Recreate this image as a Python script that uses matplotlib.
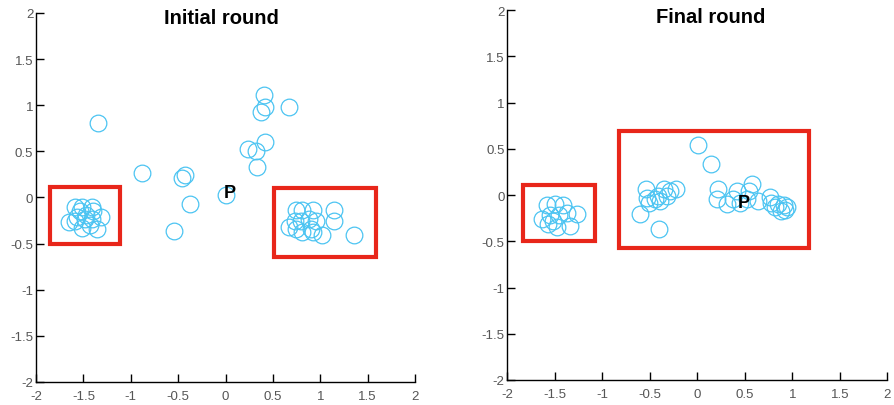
import numpy as np
import matplotlib.pyplot as plt
from matplotlib.patches import Rectangle

plt.rcParams['font.family'] = ['Liberation Sans', 'DejaVu Sans']

# initial round positions
init_x = [-1.35, -0.88, -0.46, -0.43, -0.38, -0.54, 0.00, 0.24, 0.32, 0.33, 0.42, 0.37, 0.42, 0.41, 0.67,
          -1.59, -1.52, -1.41, -1.57, -1.47, -1.40, -1.31, -1.65, -1.59, -1.52, -1.43, -1.36, -1.48, -1.41, -1.54,
          0.74, 0.81, 0.92, 1.14, 0.67, 0.73, 0.80, 0.88, 0.95, 1.14, 0.74, 0.81, 0.92, 1.02, 1.36, 0.90]
init_y = [0.81, 0.27, 0.21, 0.24, -0.07, -0.36, 0.03, 0.53, 0.50, 0.33, 0.60, 0.93, 0.98, 1.11, 0.98,
          -0.10, -0.10, -0.10, -0.21, -0.19, -0.15, -0.21, -0.27, -0.26, -0.33, -0.30, -0.34, -0.23, -0.23, -0.15,
          -0.14, -0.14, -0.14, -0.14, -0.32, -0.25, -0.26, -0.23, -0.25, -0.25, -0.34, -0.37, -0.37, -0.41, -0.41, -0.34]

# final round positions
final_x = [0.01, 0.14, -0.40, -0.60,
           -0.54, -0.53, -0.51, -0.45, -0.39, -0.35, -0.32, -0.29, -0.22, -0.41,
           0.22, 0.21, 0.31, 0.38, 0.42, 0.45, 0.52, 0.58, 0.54, 0.64, 0.76, 0.77, 0.82, 0.85, 0.91, 0.92, 0.94, 0.88,
           -1.585, -1.50, -1.41, -1.64, -1.55, -1.46, -1.37, -1.27, -1.57, -1.48, -1.34, -1.52]
final_y = [0.54, 0.34, -0.37, -0.20,
           0.07, -0.03, -0.08, -0.04, -0.06, 0.07, -0.01, 0.05, 0.07, -0.01,
           0.07, -0.04, -0.10, -0.04, 0.04, -0.08, -0.04, 0.12, 0.04, -0.06, -0.02, -0.08, -0.13, -0.10, -0.11, -0.16, -0.13, -0.17,
           -0.11, -0.10, -0.11, -0.26, -0.22, -0.22, -0.19, -0.20, -0.31, -0.35, -0.33, -0.28]

# red boxes: (x0, y0, x1, y1)
init_boxes = [(-1.85, -0.50, -1.11, 0.11), (0.51, -0.64, 1.59, 0.10)]
final_boxes = [(-1.83, -0.50, -1.08, 0.11), (-0.82, -0.57, 1.17, 0.69)]

init_p = (0.05, 0.05)
final_p = (0.49, -0.08)
ticks = [-2, -1.5, -1, -0.5, 0, 0.5, 1, 1.5, 2]
tick_labels = ['-2', '-1.5', '-1', '-0.5', '0', '0.5', '1', '1.5', '2']

circ_col = '#4cc4f2'
box_col = '#e8261a'

fig = plt.figure(figsize=(8.94, 4.06), dpi=100)
ax1 = fig.add_axes([0.0403, 0.0567, 0.4239, 0.9089])
ax2 = fig.add_axes([0.5675, 0.0616, 0.4251, 0.9106])

panels = [(ax1, init_x, init_y, init_boxes, init_p, 'Initial round', -0.04, 1.95),
          (ax2, final_x, final_y, final_boxes, final_p, 'Final round', 0.14, 1.93)]

for ax, xs, ys, boxes, p, title, tx, ty in panels:
    ax.plot(xs, ys, 'o', ms=12, mfc='none', mec=circ_col, mew=0.9, clip_on=False)
    for x0, y0, x1, y1 in boxes:
        ax.add_patch(Rectangle((x0, y0), x1 - x0, y1 - y0, fill=False,
                               ec=box_col, lw=3, zorder=3))
    ax.text(p[0], p[1], 'P', fontsize=13, fontweight='bold', ha='center', va='center', zorder=4)
    ax.text(tx, ty, title, fontsize=14.5, fontweight='bold', ha='center', va='center')
    ax.set_xlim(-2, 2)
    ax.set_ylim(-2, 2)
    ax.set_xticks(ticks)
    ax.set_xticklabels(tick_labels)
    ax.set_yticks(ticks)
    ax.set_yticklabels(tick_labels)
    ax.spines['top'].set_visible(False)
    ax.spines['right'].set_visible(False)
    ax.spines['left'].set_linewidth(1.0)
    ax.spines['bottom'].set_linewidth(1.0)
    ax.tick_params(direction='in', length=6, width=1.0, labelsize=9.5, labelcolor='#555555')
    ax.tick_params(axis='x', pad=6)
    ax.tick_params(axis='y', pad=2)

fig.savefig('out.png', dpi=100)
